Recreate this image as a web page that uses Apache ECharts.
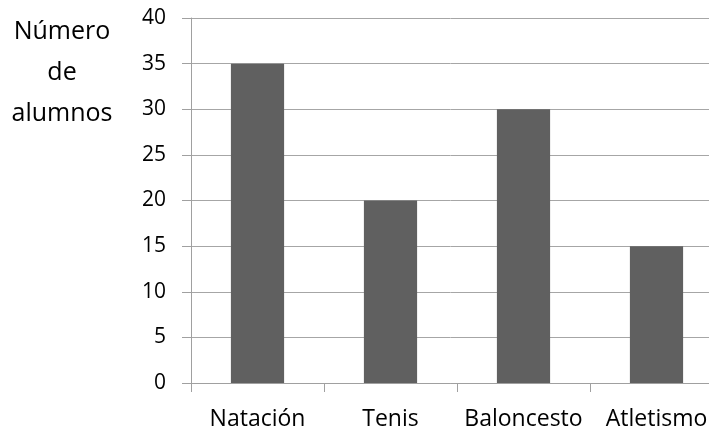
<!DOCTYPE html>
<html><head><meta charset="utf-8">
<script src="https://cdn.jsdelivr.net/npm/echarts@6/dist/echarts.min.js"></script>
<style>html,body{margin:0;padding:0;background:#fff}#c{width:709px;height:432px}</style>
</head><body><div id="c"></div>
<script>
const categories = ['Natación', 'Tenis', 'Baloncesto', 'Atletismo'];
const values = [35, 20, 30, 15];
const yTitle = 'Número\nde\nalumnos';

const chart = echarts.init(document.getElementById('c'), null, {renderer: 'canvas'});
chart.setOption({
  animation: false,
  backgroundColor: '#fff',
  title: {
    text: yTitle, left: 57, top: 6, textAlign: 'center',
    textStyle: {fontFamily: 'Open Sans', fontSize: 25, fontWeight: 'normal', color: '#000', lineHeight: 41, align: 'center'}
  },
  grid: {left: 191, width: 532, top: 18, bottom: 49, containLabel: false, outerBoundsMode: 'none'},
  xAxis: {
    type: 'category', data: categories,
    axisLine: {lineStyle: {color: '#a0a0a0', width: 1}},
    axisTick: {show: true, alignWithLabel: false, length: 9, lineStyle: {color: '#a0a0a0'}},
    axisLabel: {fontFamily: 'Open Sans', fontSize: 23, color: '#000', margin: 25, interval: 0, hideOverlap: false}
  },
  yAxis: {
    type: 'value', min: 0, max: 40, interval: 5,
    axisLine: {show: true, lineStyle: {color: '#a0a0a0', width: 1}},
    axisTick: {show: true, length: 9, lineStyle: {color: '#a0a0a0'}},
    splitLine: {show: true, lineStyle: {color: '#a6a6a6', width: 1}},
    axisLabel: {fontFamily: 'Open Sans', fontSize: 21, color: '#000', margin: 25}
  },
  series: [{
    type: 'bar', data: values, barWidth: '40%',
    itemStyle: {color: '#606060'}
  }]
});
</script></body></html>
